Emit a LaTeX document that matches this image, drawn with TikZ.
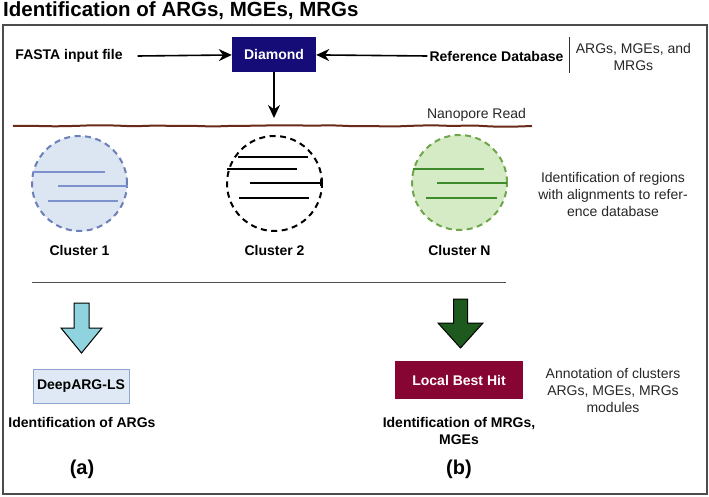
\documentclass[tikz,border=0pt]{standalone}
\usepackage{fontspec}
\setmainfont{Liberation Sans}
\usetikzlibrary{arrows.meta,positioning,decorations.pathmorphing}
\definecolor{navybox}{RGB}{22,12,120}
\definecolor{maroonbox}{RGB}{135,5,50}
\definecolor{cyanarr}{RGB}{143,211,222}
\definecolor{greenarr}{RGB}{30,90,30}
\definecolor{readbrown}{RGB}{105,42,25}
\definecolor{blfill}{RGB}{219,230,242}
\definecolor{bledge}{RGB}{107,127,184}
\definecolor{blline}{RGB}{125,146,204}
\definecolor{grfill}{RGB}{213,235,198}
\definecolor{gredge}{RGB}{111,166,74}
\definecolor{grline}{RGB}{62,139,44}
\definecolor{deepfill}{RGB}{223,233,245}
\definecolor{deepedge}{RGB}{142,165,208}

\begin{document}
\begin{tikzpicture}[
  x=1pt, y=-1pt,
  every node/.style={align=center, inner sep=0},
  lbl/.style={font=\fontsize{14}{17.5}\selectfont\bfseries},
  note/.style={font=\fontsize{14}{17}\selectfont, text=black!85},
  flow/.style={line width=1.6pt, -{Stealth[length=13pt,width=12pt]}},
  clus/.style={circle, minimum size=95pt, line width=2pt, dash pattern=on 6pt off 4.5pt},
  hit/.style={line width=2pt},
  tool/.style={lbl, minimum height=35pt}
]
\useasboundingbox (0,0) rectangle (709,497);
\pgfmathsetseed{7}

% title and frame
\node[anchor=base west, font=\fontsize{20.5}{24}\selectfont\bfseries] (title) at (3,17) {Identification of ARGs, MGEs, MRGs};
\draw[black!70, line width=1.2pt] (3,25) rectangle (707,494);

% input
\node[lbl] (fasta) at (69,56) {FASTA input file};
\node[tool, fill=navybox, text=white, minimum width=84pt] (diamond) at (274,54.5) {Diamond};
\node[lbl] (refdb) at (496.5,56) {Reference Database};
\node[note, right=12pt of refdb, yshift=-1pt] (dbtext) {ARGs, MGEs, and\\MRGs};
\draw[black!80, line width=1pt] (569,37) -- (569,73);
\draw[flow] ([xshift=15pt]fasta.east) -- (diamond);
\draw[flow] ([xshift=-2pt]refdb.west) -- (diamond);

% nanopore read
\coordinate (readtip) at (274,118);
\coordinate (rs) at (13,126);
\coordinate (re) at (532,126);
\draw[flow] (diamond) -- (readtip);
\draw[readbrown, line width=2pt, rounded corners=8pt,
  decorate, decoration={random steps, segment length=20pt, amplitude=0.8pt}] (rs) -- (re);
\node[note] (nano) at (476.5,115) {Nanopore Read};

% clusters
\node[clus, fill=blfill, draw=bledge] (c1) at (79.5,183.5) {};
\node[clus, draw=black] (c2) at (274.5,183.5) {};
\node[clus, fill=grfill, draw=gredge] (cn) at (459.5,182.5) {};
\draw[hit, blline] (33,172) -- (105,172);
\draw[hit, blline] (58,186) -- (128,186);
\draw[hit, blline] (48,201) -- (118,201);
\draw[hit] (238,157) -- (308,157);
\draw[hit] (227,169) -- (297,169);
\draw[hit, -{Bar[width=7pt]}] (250,183) -- (322,183);
\draw[hit] (239,198) -- (309,198);
\draw[hit, grline] (413,169) -- (484,169);
\draw[hit, grline] (437,183) -- (507,183);
\draw[hit, grline] (426,198) -- (497,198);
\node[lbl] (l1) at (79.5,250) {Cluster 1};
\node[lbl] (l2) at (274.5,250) {Cluster 2};
\node[lbl] (ln) at (459.5,250) {Cluster N};
\node[note] (regions) at (613,194) {Identification of regions\\with alignments to refer-\\ence database};

\coordinate (sepl) at (32,282.5);
\coordinate (sepr) at (506,282.5);
\draw[black!70, line width=1.5pt] (sepl) -- (sepr);

% annotation
\draw[fill=cyanarr, line width=1pt] (74,303) -- (89,303) -- (89,328) -- (102,328) -- (81.5,353) -- (61,328) -- (74,328) -- cycle;
\draw[fill=greenarr, line width=1pt] (453.5,299) -- (467.5,299) -- (467.5,323) -- (483,323) -- (460.5,348) -- (438,323) -- (453.5,323) -- cycle;
\node[tool, fill=deepfill, draw=deepedge, line width=1pt, minimum width=96pt, minimum height=34pt] (deeparg) at (81,386.5) {DeepARG-LS};
\node[tool, fill=maroonbox, text=white, minimum width=128pt, minimum height=38pt] (lbh) at (459,380) {Local Best Hit};
\node[lbl] (outa) at (82,422) {Identification of ARGs};
\node[lbl] (outb) at (459,431) {Identification of MRGs,\\MGEs};
\node[note] (annot) at (613,390) {Annotation of clusters\\ARGs, MGEs, MRGs\\modules};
\node[font=\fontsize{20}{24}\selectfont\bfseries] (pa) at (82,469) {(a)};
\node[font=\fontsize{20}{24}\selectfont\bfseries] (pb) at (459,469) {(b)};
\end{tikzpicture}
\end{document}
